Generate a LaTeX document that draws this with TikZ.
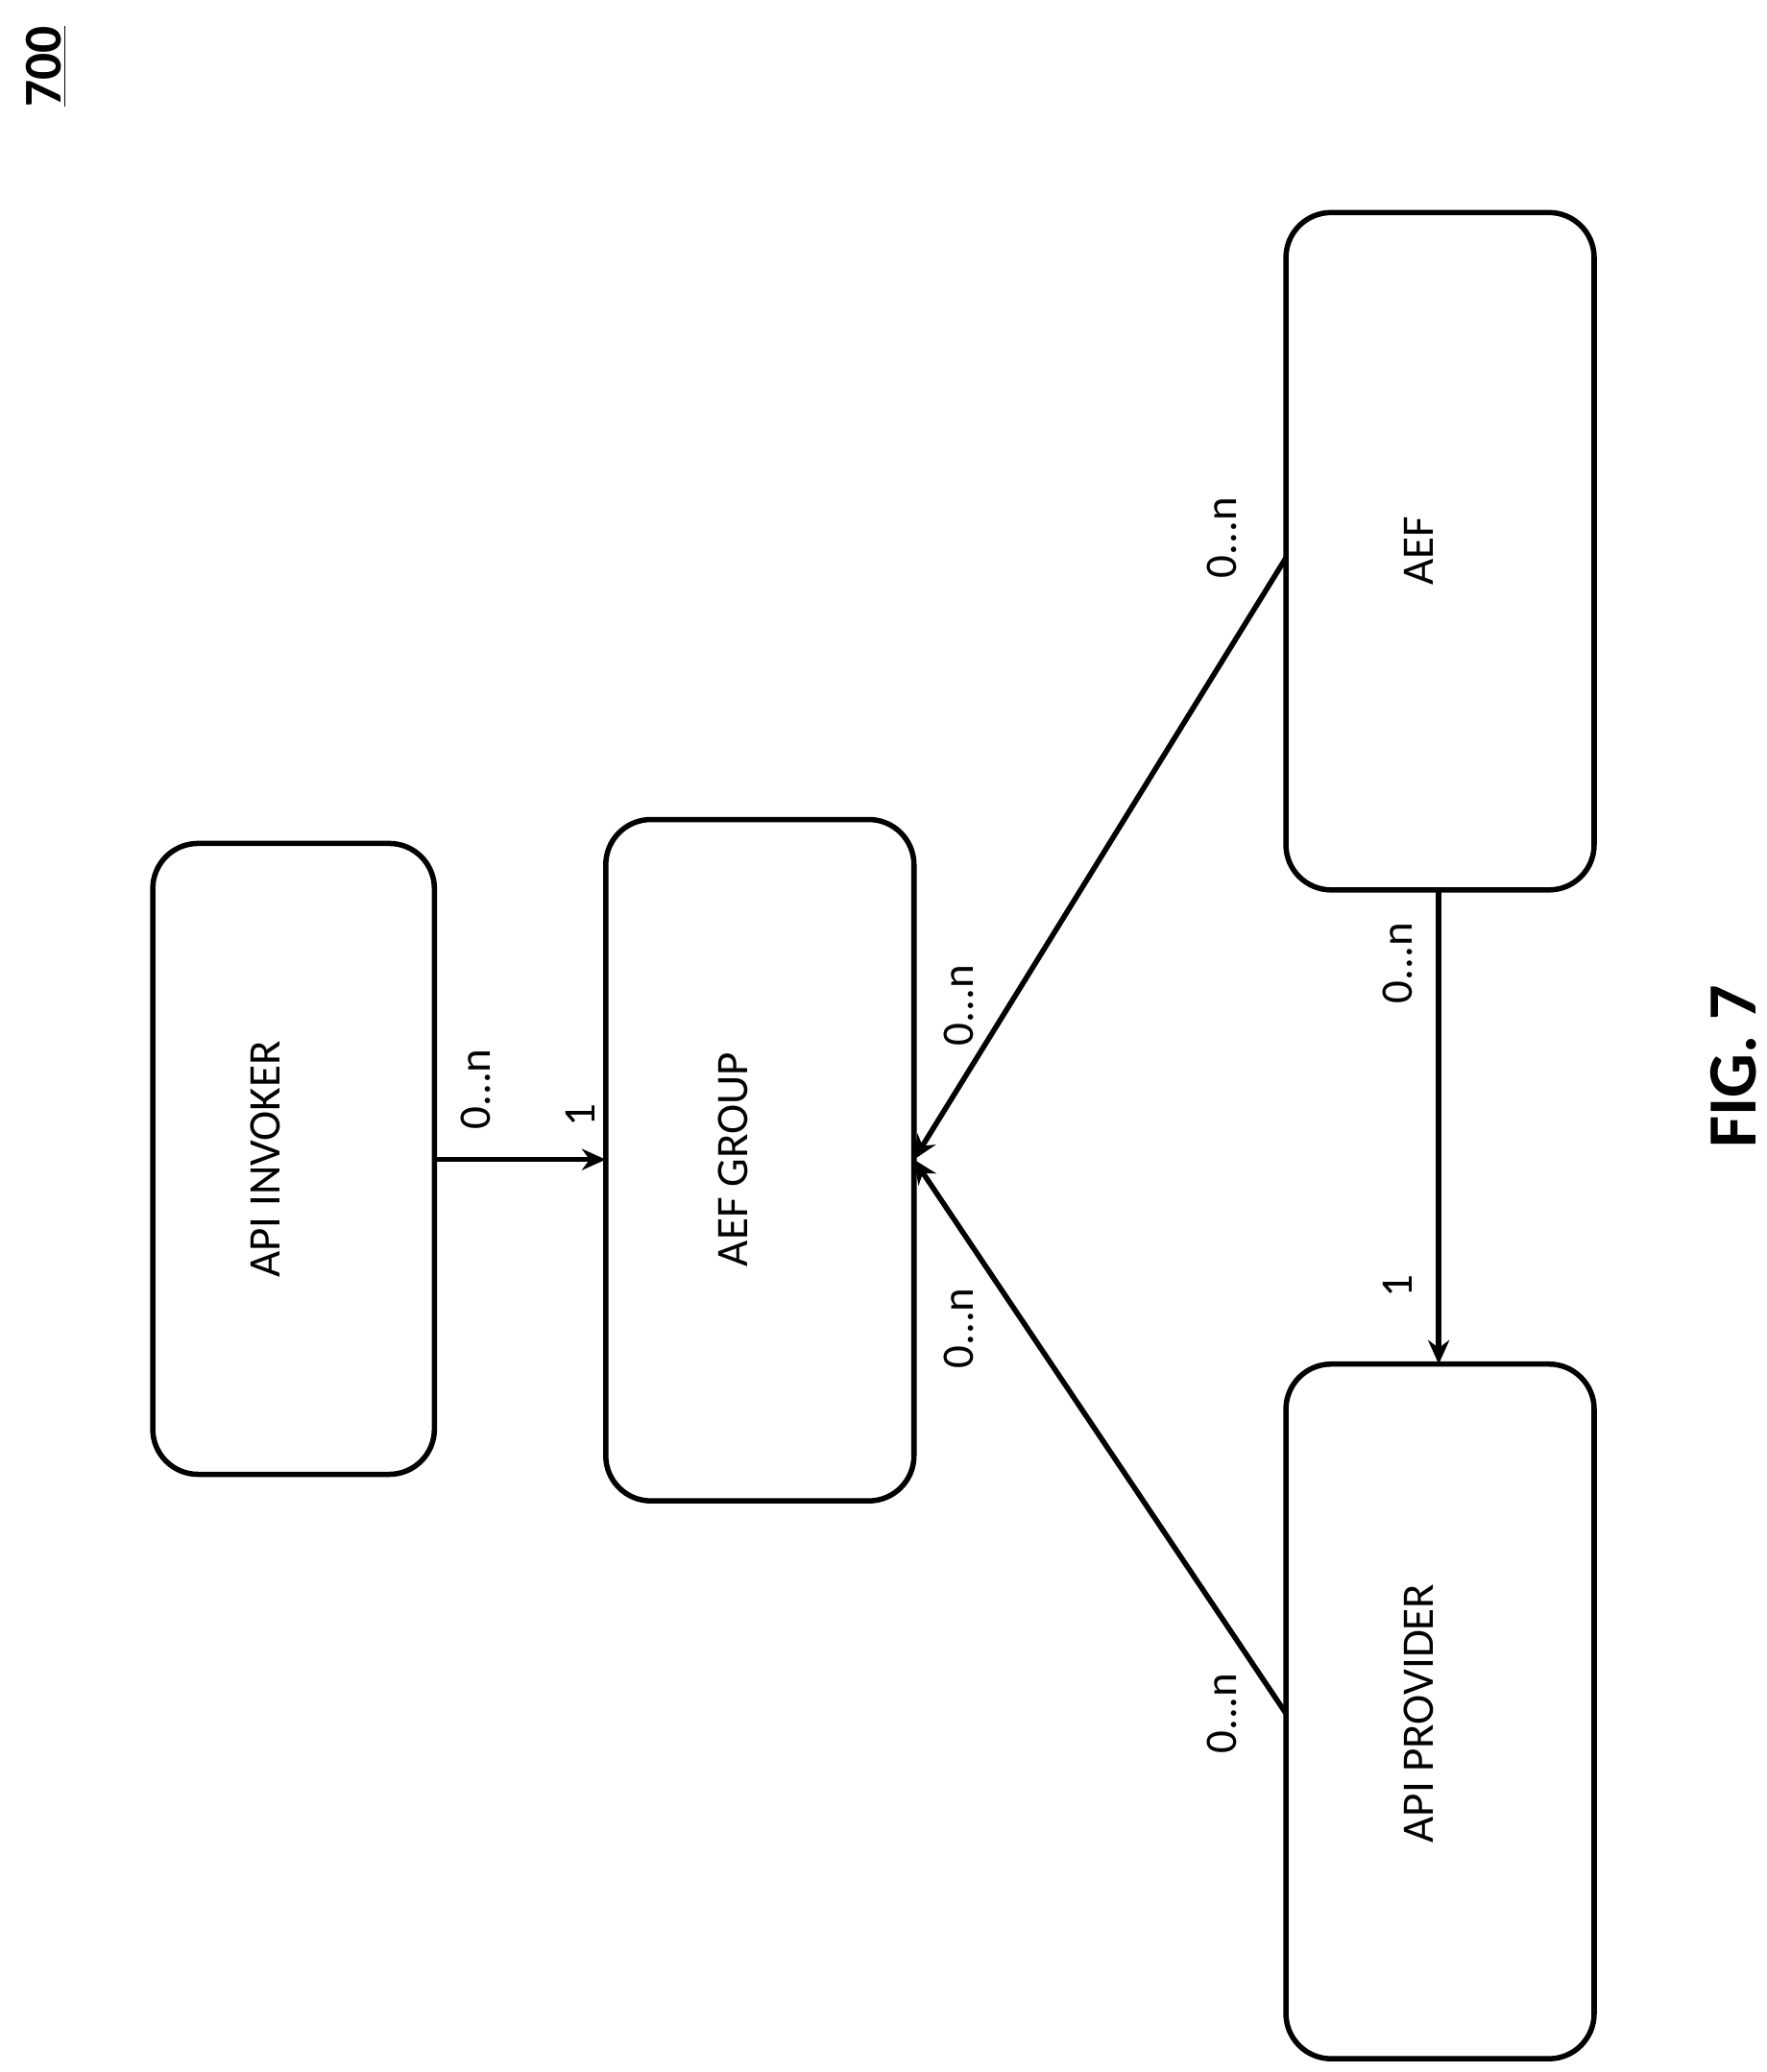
\documentclass[tikz,border=0pt]{standalone}
\usepackage{fontspec}
\setmainfont{Carlito}
\usetikzlibrary{arrows.meta}
\begin{document}
\begin{tikzpicture}[x=0.5pt,y=-0.5pt,
 box/.style={draw,line width=2pt,rounded corners=17pt},
 lbl/.style={rotate=90,font=\fontsize{17}{20}\selectfont},
 arr/.style={line width=2pt,-{Stealth[length=9pt,width=8pt]}}]
\useasboundingbox (0,0) rectangle (1330,1560);
\draw[box] (115,635) rectangle (327,1110); \node[lbl] (inv) at (200,873) {API INVOKER};
\coordinate (invR) at (327,873);
\draw[box] (456,617) rectangle (688,1130); \node[lbl] (grp) at (552,873) {AEF GROUP};
\coordinate (grpL) at (456,873); \coordinate (grpR) at (688,873);
\draw[box] (968,160) rectangle (1200,670); \node[lbl] (aef) at (1068,415) {AEF};
\coordinate (aefL) at (968,420); \coordinate (aefB) at (1083,670);
\draw[box] (968,1027) rectangle (1200,1550); \node[lbl] (prov) at (1068,1290) {API PROVIDER};
\coordinate (provL) at (968,1290); \coordinate (provT) at (1083,1027);
\draw[arr] (invR) -- (grpL);
\draw[arr] (aefL) -- (grpR);
\draw[arr] (provL) -- (grpR);
\draw[arr] (aefB) -- (provT);
\node[lbl] (l1) at (358,820) {0...n};
\node[lbl] (l2) at (437,840) {1};
\node[lbl] (l3) at (722,757) {0...n};
\node[lbl] (l4) at (722,1000) {0...n};
\node[lbl] (l5) at (920,405) {0...n};
\node[lbl] (l6) at (920,1290) {0...n};
\node[lbl] (l7) at (1052,725) {0...n};
\node[lbl] (l8) at (1052,968) {1};
\node[rotate=90,font=\bfseries\fontsize{20}{24}\selectfont] (num) at (35,50) {\underline{700}};
\node[rotate=90,font=\bfseries\fontsize{26}{30}\selectfont] (fig) at (1305,803) {FIG. 7};
\end{tikzpicture}
\end{document}
